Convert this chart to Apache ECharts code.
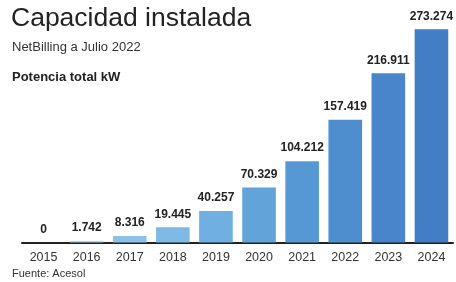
<!DOCTYPE html>
<html lang="es" style="height: 100%">
<head>
  <meta charset="utf-8">
</head>
<body style="height: 100%; margin: 0; background: #fff">
  <div id="container" style="width: 456px; height: 282px"></div>
  <script src="https://cdn.jsdelivr.net/npm/echarts@6/dist/echarts.min.js"></script>
  <script>
    const years = ['2015', '2016', '2017', '2018', '2019', '2020', '2021', '2022', '2023', '2024'];
    const potenciaKW = [0, 1742, 8316, 19445, 40257, 70329, 104212, 157419, 216911, 273274];

    // light blue on the left fading to a deeper blue on the right
    const barColors = ['#9ccbee', '#94c7ec', '#8cc2ea', '#7fb9e6', '#70afe1', '#62a3da', '#5698d4', '#4e8ecf', '#4885ca', '#437dc5'];

    const fmt = v => v.toLocaleString('de-DE');

    const chart = echarts.init(document.getElementById('container'), null, { renderer: 'canvas' });

    const option = {
      backgroundColor: '#fff',
      animation: false,
      textStyle: { fontFamily: 'Liberation Sans, Arial, sans-serif' },
      graphic: [
        { type: 'text', left: 11, top: 5, style: { text: 'Capacidad instalada', font: '26.5px Liberation Sans, Arial, sans-serif', fill: '#222' } },
        { type: 'text', left: 12, top: 41, style: { text: 'NetBilling a Julio 2022', font: '13px Liberation Sans, Arial, sans-serif', fill: '#333' } },
        { type: 'text', left: 12, top: 71, style: { text: 'Potencia total kW', font: 'bold 13px Liberation Sans, Arial, sans-serif', fill: '#222' } },
        { type: 'text', left: 12, top: 268, style: { text: 'Fuente: Acesol', font: '11px Liberation Sans, Arial, sans-serif', fill: '#333' } }
      ],
      grid: { left: 22, width: 431, top: 24, bottom: 39.5 },
      xAxis: {
        type: 'category',
        data: years,
        axisLine: { lineStyle: { color: '#222', width: 2 } },
        axisTick: { show: false },
        axisLabel: { color: '#333', fontSize: 12.5, margin: 9 }
      },
      yAxis: {
        type: 'value',
        min: 0,
        max: 280000,
        show: false,
        splitLine: { show: false }
      },
      series: [{
        type: 'bar',
        data: potenciaKW,
        barCategoryGap: '22%',
        itemStyle: { color: p => barColors[p.dataIndex] },
        label: {
          show: true,
          position: 'top',
          distance: 7,
          color: '#222',
          fontWeight: 'bold',
          fontSize: 12,
          formatter: p => fmt(p.value)
        }
      }]
    };

    chart.setOption(option);
    window.addEventListener('resize', chart.resize);
  </script>
</body>
</html>
